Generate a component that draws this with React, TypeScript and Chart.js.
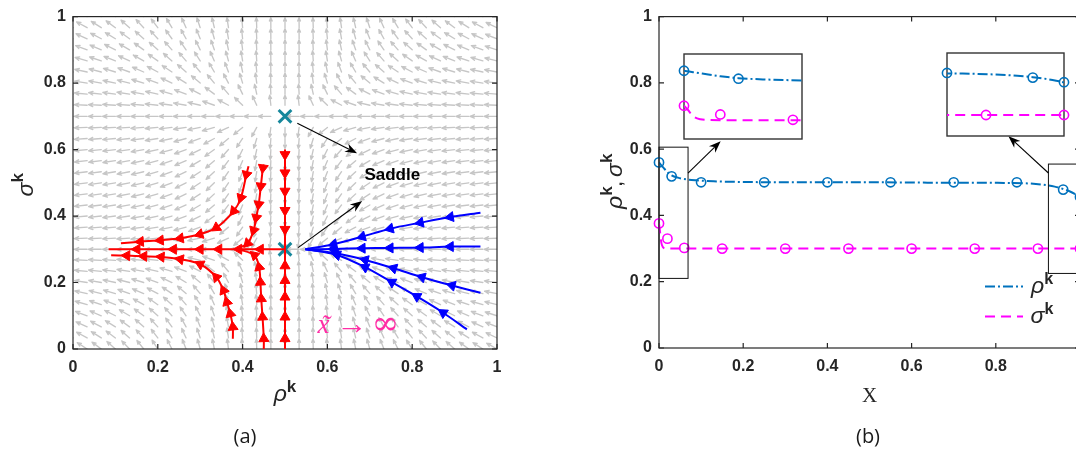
import React, { useEffect, useRef } from "react";
import { Chart, registerables } from "chart.js";

Chart.register(...registerables);

type Pt = [number, number];

/* ---------------- (a) phase portrait in the (ρ^k, σ^k) plane ---------------- */

const phaseTicks = [0, 0.2, 0.4, 0.6, 0.8, 1];

// equilibria
const saddlePoints: Pt[] = [
  [0.5, 0.7],
  [0.5, 0.3],
];

// trajectories, each listed in the direction of motion
const redFromTop: Pt[] = [[0.5, 0.6], [0.5, 0.585], [0.5, 0.53], [0.5, 0.475], [0.5, 0.417], [0.5, 0.36], [0.5, 0.3]];
const redFromBottom: Pt[] = [[0.5, 0.0], [0.5, 0.031], [0.5, 0.096], [0.5, 0.156], [0.5, 0.206], [0.5, 0.25], [0.5, 0.3]];
const redBendUpper: Pt[] = [[0.45, 0.555], [0.448, 0.545], [0.443, 0.49], [0.438, 0.435], [0.432, 0.395], [0.426, 0.357], [0.412, 0.318], [0.383, 0.3]];
const redBendLower: Pt[] = [[0.45, 0.0], [0.45, 0.031], [0.447, 0.096], [0.444, 0.151], [0.442, 0.201], [0.439, 0.246], [0.428, 0.282], [0.391, 0.3]];
const redArcUpper: Pt[] = [[0.414, 0.55], [0.409, 0.525], [0.396, 0.455], [0.379, 0.415], [0.338, 0.365], [0.299, 0.345], [0.253, 0.333], [0.206, 0.327], [0.159, 0.323], [0.113, 0.318]];
const redArcLower: Pt[] = [[0.377, 0.031], [0.377, 0.066], [0.371, 0.106], [0.363, 0.141], [0.355, 0.176], [0.338, 0.216], [0.3, 0.255], [0.253, 0.27], [0.208, 0.277], [0.167, 0.279], [0.127, 0.281], [0.09, 0.282]];
const redAxis: Pt[] = [[0.5, 0.3], [0.442, 0.3], [0.391, 0.3], [0.344, 0.3], [0.3, 0.3], [0.237, 0.3], [0.151, 0.3], [0.084, 0.3]];

const blueUpper: Pt[] = [[0.961, 0.41], [0.89, 0.397], [0.819, 0.38], [0.748, 0.362], [0.682, 0.338], [0.615, 0.315], [0.548, 0.3]];
const blueLevel: Pt[] = [[0.961, 0.308], [0.89, 0.308], [0.819, 0.305], [0.748, 0.304], [0.682, 0.303], [0.615, 0.301], [0.548, 0.3]];
const blueMiddle: Pt[] = [[0.961, 0.169], [0.894, 0.191], [0.823, 0.216], [0.756, 0.243], [0.689, 0.268], [0.619, 0.288], [0.548, 0.3]];
const blueLower: Pt[] = [[0.929, 0.059], [0.873, 0.109], [0.811, 0.158], [0.752, 0.201], [0.689, 0.246], [0.623, 0.283], [0.548, 0.3]];

// direction field: ρ' = -(ρ - ρ*)^2 ,  σ' = g (σ - σs)(σ - σu)
const rhoStar = 0.5;
const sigmaStable = 0.3;
const sigmaUnstable = 0.7;
const sigmaGain = 0.85;
const quiverDivisions = 30;
const quiverLength = 0.03;

// "Saddle" callout
const saddleCallouts: [Pt, Pt][] = [
  [[0.529, 0.679], [0.67, 0.589]],
  [[0.531, 0.305], [0.682, 0.445]],
];
const saddleLabelAt: Pt = [0.753, 0.523];
const limitLabelAt: Pt = [0.678, 0.047];

/* ---------------- (b) profiles along X ---------------- */

const profileTicks = [0, 0.2, 0.4, 0.6, 0.8, 1];

const rhoCurveX = [0, 0.005, 0.01, 0.02, 0.03, 0.045, 0.065, 0.09, 0.13, 0.2, 0.35, 0.5, 0.65, 0.75, 0.82, 0.87, 0.91, 0.94, 0.96, 0.975, 0.99, 1.0];
const rhoCurve = [0.56, 0.552, 0.545, 0.531, 0.521, 0.514, 0.509, 0.506, 0.503, 0.501, 0.5, 0.5, 0.499, 0.499, 0.498, 0.497, 0.493, 0.487, 0.48, 0.473, 0.463, 0.455];
const sigmaCurveX = [0, 0.002, 0.004, 0.006, 0.009, 0.013, 0.02, 0.04, 1.0];
const sigmaCurve = [0.376, 0.356, 0.332, 0.315, 0.305, 0.301, 0.3, 0.3, 0.3];

const rhoMarkX = [0, 0.03, 0.1, 0.25, 0.4, 0.55, 0.7, 0.85, 0.96, 1.0];
const rhoMark = [0.56, 0.518, 0.5, 0.5, 0.5, 0.5, 0.5, 0.5, 0.478, 0.456];
const sigmaMarkX = [0, 0.02, 0.06, 0.15, 0.3, 0.45, 0.6, 0.75, 0.9, 1.0];
const sigmaMark = [0.376, 0.33, 0.302, 0.3, 0.3, 0.3, 0.3, 0.3, 0.3, 0.3];

// magnified views: data window and where the view sits on the main axes
const zoomLeftX: Pt = [0, 0.065];
const zoomLeftY: Pt = [0.201, 0.648];
const zoomRightX: Pt = [0.85, 1.0];
const zoomRightY: Pt = [0.2, 0.595];
const insetLeftAt = { x: [0.059, 0.34] as Pt, y: [0.633, 0.888] as Pt };
const insetRightAt = { x: [0.685, 0.963] as Pt, y: [0.639, 0.889] as Pt };
const zoomSources = [
  { x: [0, 0.069] as Pt, y: [0.21, 0.606] as Pt },
  { x: [0.925, 1.05] as Pt, y: [0.225, 0.555] as Pt },
];
const zoomLinks: [Pt, Pt][] = [
  [[0.069, 0.528], [0.1465, 0.624]],
  [[0.925, 0.528], [0.83, 0.639]],
];

/* ---------------- styling ---------------- */

const W = 1076;
const H = 457;
const PANEL_B_LEFT = 560;
const INSET_PAD = 8;
const AXIS_INK = "#262626";
const RED = "#ff0000";
const BLUE = "#0000ff";
const TEAL = "#16879b";
const QUIVER = "#c6c6c6";
const RHO_COLOR = "#0072bd";
const SIGMA_COLOR = "#ff00ff";
const RHO_DASH = [10, 3, 2, 3];
const SIGMA_DASH = [10, 6];
const LIMIT_COLOR = "#ff2ea6";
const TICK_FONT = { family: "Liberation Sans", size: 16, weight: "bold" as const };
const GREEK = 'italic 23px "Liberation Sans"';
const SUP = 'bold 17px "Liberation Sans"';
const PANEL_TAG = '20px "Open Sans"';

const toXY = (pts: Pt[]) => pts.map(([x, y]) => ({ x, y }));
const zipXY = (xs: number[], ys: number[]) => xs.map((x, i) => ({ x, y: ys[i] }));
const tickText = (v: number) => (v === 0 || v === 1 ? String(v) : v.toFixed(1));

function phaseField(r: number, s: number): Pt {
  return [-((r - rhoStar) ** 2), sigmaGain * (s - sigmaStable) * (s - sigmaUnstable)];
}

function headingAt(chart: any, pts: Pt[], i: number) {
  const xs = chart.scales.x;
  const ys = chart.scales.y;
  const a = pts[Math.max(i - 1, 0)];
  const b = pts[Math.min(i + 1, pts.length - 1)];
  const dx = xs.getPixelForValue(b[0]) - xs.getPixelForValue(a[0]);
  const dy = ys.getPixelForValue(b[1]) - ys.getPixelForValue(a[1]);
  return (Math.atan2(dx, -dy) * 180) / Math.PI;
}

function streamDataset(pts: Pt[], color: string) {
  const n = pts.length;
  return {
    data: toXY(pts),
    showLine: true,
    borderColor: color,
    borderWidth: 2,
    tension: 0.3,
    pointStyle: "triangle",
    pointBackgroundColor: color,
    pointBorderColor: color,
    pointBorderWidth: 1,
    pointRadius: (c: any) => (c.dataIndex === 0 || c.dataIndex === n - 1 ? 0 : 5.8),
    pointRotation: (c: any) => headingAt(c.chart, pts, c.dataIndex),
    clip: 8,
  };
}

function drawArrow(ctx: CanvasRenderingContext2D, x0: number, y0: number, x1: number, y1: number) {
  const ang = Math.atan2(y1 - y0, x1 - x0);
  const c = Math.cos(ang);
  const s = Math.sin(ang);
  const hl = 12;
  const hw = 4.5;
  const bx = x1 - hl * c;
  const by = y1 - hl * s;
  const nx = x1 - 0.7 * hl * c;
  const ny = y1 - 0.7 * hl * s;
  ctx.save();
  ctx.strokeStyle = "#000";
  ctx.fillStyle = "#000";
  ctx.lineWidth = 1.1;
  ctx.beginPath();
  ctx.moveTo(x0, y0);
  ctx.lineTo(nx, ny);
  ctx.stroke();
  ctx.beginPath();
  ctx.moveTo(x1, y1);
  ctx.lineTo(bx - s * hw, by + c * hw);
  ctx.lineTo(nx, ny);
  ctx.lineTo(bx + s * hw, by - c * hw);
  ctx.closePath();
  ctx.fill();
  ctx.restore();
}

function drawFrame(chart: any, xt: number[], yt: number[]) {
  const { ctx, chartArea: a, scales } = chart;
  const L = 5;
  ctx.save();
  ctx.strokeStyle = AXIS_INK;
  ctx.lineWidth = 1.2;
  ctx.strokeRect(a.left, a.top, a.right - a.left, a.bottom - a.top);
  ctx.beginPath();
  for (const v of xt) {
    const p = scales.x.getPixelForValue(v);
    ctx.moveTo(p, a.bottom);
    ctx.lineTo(p, a.bottom - L);
    ctx.moveTo(p, a.top);
    ctx.lineTo(p, a.top + L);
  }
  for (const v of yt) {
    const p = scales.y.getPixelForValue(v);
    ctx.moveTo(a.left, p);
    ctx.lineTo(a.left + L, p);
    ctx.moveTo(a.right, p);
    ctx.lineTo(a.right - L, p);
  }
  ctx.stroke();
  ctx.restore();
}

type Run = [string, string, number];

function drawRuns(ctx: CanvasRenderingContext2D, runs: Run[], x: number, y: number, color: string, rotate = false) {
  ctx.save();
  ctx.translate(x, y);
  if (rotate) ctx.rotate(-Math.PI / 2);
  ctx.fillStyle = color;
  ctx.textAlign = "left";
  ctx.textBaseline = "alphabetic";
  let w = 0;
  for (const [t, f] of runs) {
    ctx.font = f;
    w += ctx.measureText(t).width;
  }
  let cx = -w / 2;
  for (const [t, f, dy] of runs) {
    ctx.font = f;
    ctx.fillText(t, cx, dy);
    cx += ctx.measureText(t).width;
  }
  ctx.restore();
}

function drawQuiver(chart: any) {
  const { ctx, chartArea: a, scales } = chart;
  ctx.save();
  ctx.beginPath();
  ctx.rect(a.left, a.top, a.right - a.left, a.bottom - a.top);
  ctx.clip();
  ctx.strokeStyle = QUIVER;
  ctx.lineWidth = 1.35;
  ctx.lineCap = "round";
  ctx.beginPath();
  for (let i = 0; i <= quiverDivisions; i++) {
    for (let j = 0; j <= quiverDivisions; j++) {
      const r = i / quiverDivisions;
      const s = j / quiverDivisions;
      const [u, v] = phaseField(r, s);
      const m = Math.hypot(u, v);
      if (m < 1e-9) continue;
      const x0 = scales.x.getPixelForValue(r);
      const y0 = scales.y.getPixelForValue(s);
      const x1 = scales.x.getPixelForValue(r + (quiverLength * u) / m);
      const y1 = scales.y.getPixelForValue(s + (quiverLength * v) / m);
      const ang = Math.atan2(y1 - y0, x1 - x0);
      const len = Math.hypot(x1 - x0, y1 - y0);
      const hl = 0.36 * len;
      ctx.moveTo(x0, y0);
      ctx.lineTo(x1, y1);
      ctx.moveTo(x1, y1);
      ctx.lineTo(x1 - hl * Math.cos(ang - 0.4), y1 - hl * Math.sin(ang - 0.4));
      ctx.moveTo(x1, y1);
      ctx.lineTo(x1 - hl * Math.cos(ang + 0.4), y1 - hl * Math.sin(ang + 0.4));
    }
  }
  ctx.stroke();
  ctx.restore();
}

function axisScale(min: number, max: number, ticks: number[], fit: (s: any) => void, padding: number) {
  return {
    type: "linear",
    min,
    max,
    afterBuildTicks: (s: any) => {
      s.ticks = ticks.map((value) => ({ value }));
    },
    ticks: { font: TICK_FONT, color: AXIS_INK, padding, autoSkip: false, maxRotation: 0, callback: (v: any) => tickText(Number(v)) },
    grid: { display: false, drawTicks: false },
    border: { display: false },
    afterFit: fit,
  };
}

const phaseDecor = {
  id: "phaseDecor",
  beforeDatasetsDraw(chart: any) {
    drawQuiver(chart);
    drawFrame(chart, phaseTicks, phaseTicks);
  },
  afterDatasetsDraw(chart: any) {
    const { ctx, scales } = chart;
    const px = (p: Pt): Pt => [scales.x.getPixelForValue(p[0]), scales.y.getPixelForValue(p[1])];
    for (const [from, to] of saddleCallouts) {
      const [x0, y0] = px(from);
      const [x1, y1] = px(to);
      drawArrow(ctx, x0, y0, x1, y1);
    }
    const [sx, sy] = px(saddleLabelAt);
    ctx.save();
    ctx.fillStyle = "#000";
    ctx.font = 'bold 17px "Liberation Sans"';
    ctx.textAlign = "center";
    ctx.textBaseline = "middle";
    ctx.fillText("Saddle", sx, sy);
    // x̃ → ∞
    const [lx, ly] = px(limitLabelAt);
    ctx.fillStyle = LIMIT_COLOR;
    ctx.textBaseline = "alphabetic";
    ctx.font = 'italic 27px "Liberation Serif"';
    ctx.fillText("x", lx - 37, ly);
    ctx.fillText("\u02dc", lx - 35, ly + 1);
    ctx.font = '31px "Liberation Serif"';
    ctx.fillText("\u2192", lx - 8.5, ly + 1);
    ctx.font = '33px "DejaVu Serif"';
    ctx.fillText("\u221e", lx + 25, ly + 1);
    ctx.restore();
  },
  afterDraw(chart: any) {
    const { ctx, chartArea: a } = chart;
    const midY = (a.top + a.bottom) / 2;
    drawRuns(ctx, [["\u03c3", GREEK, 0], ["k", SUP, -10]], a.left - 40, midY + 2, AXIS_INK, true);
    drawRuns(ctx, [["\u03c1", GREEK, 0], ["k", SUP, -9]], (a.left + a.right) / 2, a.bottom + 52, AXIS_INK);
    drawRuns(ctx, [["(a)", PANEL_TAG, 0]], 245, 443, "#1a1a1a");
  },
};

function seriesDatasets(markerClip: number) {
  return [
    {
      data: zipXY(rhoCurveX, rhoCurve),
      showLine: true,
      borderColor: RHO_COLOR,
      borderWidth: 2,
      borderDash: RHO_DASH,
      cubicInterpolationMode: "monotone",
      pointRadius: 0,
    },
    {
      data: zipXY(sigmaCurveX, sigmaCurve),
      showLine: true,
      borderColor: SIGMA_COLOR,
      borderWidth: 2,
      borderDash: SIGMA_DASH,
      cubicInterpolationMode: "monotone",
      pointRadius: 0,
    },
    {
      data: zipXY(rhoMarkX, rhoMark),
      showLine: false,
      pointStyle: "circle",
      pointRadius: 4.6,
      pointBorderWidth: 1.6,
      pointBorderColor: RHO_COLOR,
      pointBackgroundColor: "rgba(0,0,0,0)",
      clip: markerClip,
    },
    {
      data: zipXY(sigmaMarkX, sigmaMark),
      showLine: false,
      pointStyle: "circle",
      pointRadius: 4.6,
      pointBorderWidth: 1.6,
      pointBorderColor: SIGMA_COLOR,
      pointBackgroundColor: "rgba(0,0,0,0)",
      clip: markerClip,
    },
  ];
}

const profileDecor = {
  id: "profileDecor",
  beforeDatasetsDraw(chart: any) {
    drawFrame(chart, profileTicks, profileTicks);
  },
  afterDatasetsDraw(chart: any) {
    const { ctx, chartArea: a, scales } = chart;
    const gx = (v: number) => scales.x.getPixelForValue(v);
    const gy = (v: number) => scales.y.getPixelForValue(v);
    ctx.save();
    ctx.strokeStyle = "#111";
    ctx.lineWidth = 1;
    for (const z of zoomSources) {
      ctx.strokeRect(gx(z.x[0]), gy(z.y[1]), gx(z.x[1]) - gx(z.x[0]), gy(z.y[0]) - gy(z.y[1]));
    }
    ctx.restore();
    for (const [from, to] of zoomLinks) drawArrow(ctx, gx(from[0]), gy(from[1]), gx(to[0]), gy(to[1]));

    // legend
    const lx0 = a.right - 95;
    const lx1 = a.right - 57;
    const rows: [number, string, number[], string][] = [
      [a.top + 270, RHO_COLOR, RHO_DASH, "\u03c1"],
      [a.top + 300, SIGMA_COLOR, SIGMA_DASH, "\u03c3"],
    ];
    for (const [yy, col, dash, sym] of rows) {
      ctx.save();
      ctx.strokeStyle = col;
      ctx.lineWidth = 2;
      ctx.setLineDash(dash);
      ctx.beginPath();
      ctx.moveTo(lx0, yy);
      ctx.lineTo(lx1, yy);
      ctx.stroke();
      ctx.restore();
      drawRuns(ctx, [[sym, GREEK, 0], ["k", 'bold 16px "Liberation Sans"', -9]], a.right - 38, yy + 6, AXIS_INK);
    }
  },
  afterDraw(chart: any) {
    const { ctx, chartArea: a } = chart;
    const midY = (a.top + a.bottom) / 2;
    drawRuns(
      ctx,
      [
        ["\u03c1", GREEK, 0],
        ["k", SUP, -10],
        [", ", SUP, 0],
        ["\u03c3", GREEK, 0],
        ["k", SUP, -10],
      ],
      a.left - 37,
      midY - 1,
      AXIS_INK,
      true
    );
    drawRuns(ctx, [["X", '21px "Liberation Serif"', 0]], (a.left + a.right) / 2, a.bottom + 54, AXIS_INK);
    drawRuns(ctx, [["(b)", PANEL_TAG, 0]], 308, 443, "#1a1a1a");
  },
};

const insetDecor = {
  id: "insetDecor",
  beforeDatasetsDraw(chart: any) {
    const { ctx, chartArea: a } = chart;
    ctx.save();
    ctx.fillStyle = "#fff";
    ctx.fillRect(a.left, a.top, a.right - a.left, a.bottom - a.top);
    ctx.strokeStyle = "#333";
    ctx.lineWidth = 1.4;
    ctx.strokeRect(a.left, a.top, a.right - a.left, a.bottom - a.top);
    ctx.restore();
  },
};

const baseOptions = {
  responsive: false,
  maintainAspectRatio: false,
  animation: false,
  events: [],
  plugins: { legend: { display: false }, tooltip: { enabled: false } },
};

export default function App() {
  const aRef = useRef<HTMLCanvasElement>(null);
  const bRef = useRef<HTMLCanvasElement>(null);
  const leftRef = useRef<HTMLCanvasElement>(null);
  const rightRef = useRef<HTMLCanvasElement>(null);

  useEffect(() => {
    const charts: Chart[] = [];

    const streams = [
      ...[redFromTop, redFromBottom, redBendUpper, redBendLower, redArcUpper, redArcLower, redAxis].map((p) => streamDataset(p, RED)),
      ...[blueUpper, blueLevel, blueMiddle, blueLower].map((p) => streamDataset(p, BLUE)),
    ];
    const phase = new Chart(aRef.current as HTMLCanvasElement, {
      type: "scatter",
      data: {
        datasets: [
          ...streams,
          {
            data: toXY(saddlePoints),
            showLine: false,
            pointStyle: "crossRot",
            pointRadius: 9,
            pointBorderWidth: 3,
            pointBorderColor: TEAL,
            clip: 12,
          },
        ],
      },
      options: {
        ...baseOptions,
        layout: { padding: { left: 0, top: 15, right: 33, bottom: 0 } },
        scales: {
          x: axisScale(0, 1, phaseTicks, (s) => { s.height = 108; }, 9),
          y: axisScale(0, 1, phaseTicks, (s) => { s.width = 73; }, 7),
        },
      },
      plugins: [phaseDecor],
    } as any);
    charts.push(phase);

    const main = new Chart(bRef.current as HTMLCanvasElement, {
      type: "scatter",
      data: { datasets: seriesDatasets(8) },
      options: {
        ...baseOptions,
        layout: { padding: { left: 0, top: 15, right: 25, bottom: 0 } },
        scales: {
          x: axisScale(0, 1, profileTicks, (s) => { s.height = 109; }, 9),
          y: axisScale(0, 1, profileTicks, (s) => { s.width = 99; }, 7),
        },
      },
      plugins: [profileDecor],
    } as any);
    charts.push(main);

    const views: [HTMLCanvasElement | null, { x: Pt; y: Pt }, Pt, Pt][] = [
      [leftRef.current, insetLeftAt, zoomLeftX, zoomLeftY],
      [rightRef.current, insetRightAt, zoomRightX, zoomRightY],
    ];
    for (const [cv, at, xr, yr] of views) {
      if (!cv) continue;
      const xs: any = main.scales.x;
      const ys: any = main.scales.y;
      const left = PANEL_B_LEFT + xs.getPixelForValue(at.x[0]) - INSET_PAD;
      const right = PANEL_B_LEFT + xs.getPixelForValue(at.x[1]) + INSET_PAD;
      const top = ys.getPixelForValue(at.y[1]) - INSET_PAD;
      const bottom = ys.getPixelForValue(at.y[0]) + INSET_PAD;
      const w = Math.round(right - left);
      const h = Math.round(bottom - top);
      cv.width = w;
      cv.height = h;
      cv.style.left = `${Math.round(left)}px`;
      cv.style.top = `${Math.round(top)}px`;
      cv.style.width = `${w}px`;
      cv.style.height = `${h}px`;
      const inset = new Chart(cv, {
        type: "scatter",
        data: { datasets: seriesDatasets(INSET_PAD) },
        options: {
          ...baseOptions,
          layout: { padding: INSET_PAD },
          scales: {
            x: { type: "linear", display: false, min: xr[0], max: xr[1] },
            y: { type: "linear", display: false, min: yr[0], max: yr[1] },
          },
        },
        plugins: [insetDecor],
      } as any);
      charts.push(inset);
    }

    return () => charts.forEach((c) => c.destroy());
  }, []);

  return (
    <div style={{ position: "fixed", left: 0, top: 0, width: W, height: H, overflow: "hidden", background: "#fff" }}>
      <canvas ref={aRef} width={530} height={H} style={{ position: "absolute", left: 0, top: 0 }} />
      <canvas ref={bRef} width={545} height={H} style={{ position: "absolute", left: PANEL_B_LEFT, top: 0 }} />
      <canvas ref={leftRef} style={{ position: "absolute" }} />
      <canvas ref={rightRef} style={{ position: "absolute" }} />
    </div>
  );
}
